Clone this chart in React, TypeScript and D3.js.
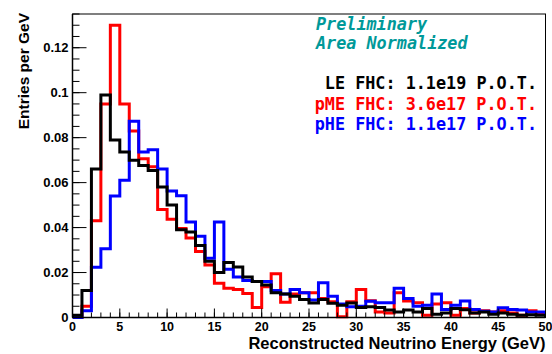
import React from "react";
import * as d3 from "d3";

const binEdges: number[] = d3.range(0, 51, 1);

const leValues: number[] = [
  0.001, 0.012, 0.066, 0.099, 0.079, 0.0736, 0.070, 0.0676, 0.0654, 0.058,
  0.050, 0.039, 0.038, 0.032, 0.025, 0.020, 0.0245, 0.0225, 0.018, 0.016,
  0.0145, 0.011, 0.0105, 0.0095, 0.008, 0.0065, 0.008, 0.0063, 0.0055, 0.0065,
  0.0045, 0.0048, 0.0045, 0.0033, 0.0025, 0.0033, 0.0025, 0.004, 0.0015, 0.002,
  0.004, 0.0035, 0.002, 0.0025, 0.0015, 0.002, 0.0015, 0.001, 0.0012, 0.001,
];

const pmeValues: number[] = [
  0.0, 0.005, 0.043, 0.095, 0.130, 0.095, 0.083, 0.0706, 0.067, 0.048,
  0.0437, 0.0396, 0.0354, 0.0294, 0.0234, 0.0152, 0.013, 0.0125, 0.0107, 0.0045,
  0.0137, 0.0195, 0.0068, 0.0105, 0.011, 0.011, 0.0085, 0.007, 0.0003, 0.007,
  0.0125, 0.0075, 0.0025, 0.002, 0.011, 0.0073, 0.0066, 0.001, 0.006, 0.0066,
  0.001, 0.004, 0.002, 0.003, 0.0025, 0.003, 0.002, 0.001, 0.003, 0.0015,
];

const pheValues: number[] = [
  0.0, 0.003, 0.0224, 0.0306, 0.054, 0.061, 0.0873, 0.0736, 0.0746, 0.066,
  0.0563, 0.0542, 0.0425, 0.0361, 0.0264, 0.0425, 0.0215, 0.018, 0.0165, 0.016,
  0.016, 0.012, 0.0105, 0.0125, 0.011, 0.0078, 0.0155, 0.0095, 0.006, 0.0048,
  0.005, 0.0072, 0.0066, 0.0066, 0.013, 0.0085, 0.005, 0.0055, 0.0104, 0.0036,
  0.0055, 0.0073, 0.0036, 0.0028, 0.0025, 0.0043, 0.0036, 0.0033, 0.0025, 0.0025,
];

const yTickValues: number[] = [0, 0.02, 0.04, 0.06, 0.08, 0.1, 0.12];
const yTickLabels: string[] = ["0", "0.02", "0.04", "0.06", "0.08", "0.1", "0.12"];
const xTickValues: number[] = [0, 5, 10, 15, 20, 25, 30, 35, 40, 45, 50];

const legendLines: string[] = [
  "LE FHC: 1.1e19 P.O.T.",
  "pME FHC: 3.6e17 P.O.T.",
  "pHE FHC: 1.1e17 P.O.T.",
];
const legendColors: string[] = ["#000000", "#ff0000", "#0000ff"];
const noteLines: string[] = ["Preliminary", "Area Normalized"];

const W = 552;
const H = 354;
const left = 72.5;
const right = 545.5;
const top = 14;
const bottom = 317.5;

export default function App() {
  const x = d3.scaleLinear().domain([0, 50]).range([left, right]);
  const y = d3.scaleLinear().domain([0, 0.135]).range([bottom, top]);

  const stepPath = (vals: number[]) => {
    const p = d3.path();
    p.moveTo(x(binEdges[0]), y(0));
    vals.forEach((v, i) => {
      p.lineTo(x(binEdges[i]), y(v));
      p.lineTo(x(binEdges[i + 1]), y(v));
    });
    p.lineTo(x(binEdges[binEdges.length - 1]), y(0));
    return p.toString();
  };

  const yMinor = d3.range(0, 0.1351, 0.005);
  const xMinor = d3.range(0, 51, 1);

  const labelFont = "'Liberation Sans', Arial, Helvetica, sans-serif";
  const monoFont = "'DejaVu Sans Mono', monospace";

  return (
    <svg width={W} height={H} style={{ position: "absolute", left: 0, top: 0 }}>
      <rect x={0} y={0} width={W} height={H} fill="#fff" />
      <clipPath id="plotclip">
        <rect x={left} y={top} width={right - left} height={bottom - top + 2} />
      </clipPath>
      <g clipPath="url(#plotclip)" fill="none" strokeWidth={3} strokeLinejoin="miter">
        <path d={stepPath(pmeValues)} stroke="#ff0000" />
        <path d={stepPath(pheValues)} stroke="#0000ff" />
        <path d={stepPath(leValues)} stroke="#000000" />
      </g>
      {/* frame */}
      <rect x={left} y={top} width={right - left} height={bottom - top} fill="none" stroke="#000" strokeWidth={1} />
      <line x1={left} x2={left} y1={top} y2={bottom} stroke="#000" strokeWidth={1.5} />
      <line x1={left} x2={right} y1={bottom} y2={bottom} stroke="#000" strokeWidth={1.5} />
      {/* y ticks */}
      {yMinor.map((v, i) => (
        <line key={"ym" + i} x1={left} x2={left + 7} y1={y(v)} y2={y(v)} stroke="#000" strokeWidth={1} />
      ))}
      {yTickValues.map((v, i) => (
        <line key={"yM" + i} x1={left} x2={left + 14} y1={y(v)} y2={y(v)} stroke="#000" strokeWidth={1} />
      ))}
      {yTickValues.map((v, i) => (
        <text key={"yl" + i} x={68.5} y={y(v) + 4.5} textAnchor="end" fontFamily={labelFont} fontWeight="bold" fontSize={13}>
          {yTickLabels[i]}
        </text>
      ))}
      {/* x ticks */}
      {xMinor.map((v, i) => (
        <line key={"xm" + i} x1={x(v)} x2={x(v)} y1={bottom} y2={bottom - 5} stroke="#000" strokeWidth={1} />
      ))}
      {xTickValues.map((v, i) => (
        <line key={"xM" + i} x1={x(v)} x2={x(v)} y1={bottom} y2={bottom - 9} stroke="#000" strokeWidth={1} />
      ))}
      {xTickValues.map((v, i) => (
        <text key={"xl" + i} x={x(v)} y={331} textAnchor="middle" fontFamily={labelFont} fontWeight="bold" fontSize={12.5}>
          {String(v)}
        </text>
      ))}
      {/* axis titles */}
      <text x={right} y={349} textAnchor="end" fontFamily={labelFont} fontWeight="bold" fontSize={16.5}>
        Reconstructed Neutrino Energy (GeV)
      </text>
      <text transform={`translate(28.5,${top - 1}) rotate(-90)`} textAnchor="end" fontFamily={labelFont} fontWeight="bold" fontSize={15.5}>
        Entries per GeV
      </text>
      {/* notes */}
      {noteLines.map((t, i) => (
        <text key={"n" + i} x={316} y={29.5 + i * 19.5} fontFamily={monoFont} fontWeight="bold" fontStyle="italic" fontSize={16.8} fill="#009999">
          {t}
        </text>
      ))}
      {legendLines.map((t, i) => (
        <text key={"l" + i} x={537} y={89 + i * 20.5} textAnchor="end" fontFamily={monoFont} fontWeight="bold" fontSize={16.8} fill={legendColors[i]}>
          {t}
        </text>
      ))}
    </svg>
  );
}
